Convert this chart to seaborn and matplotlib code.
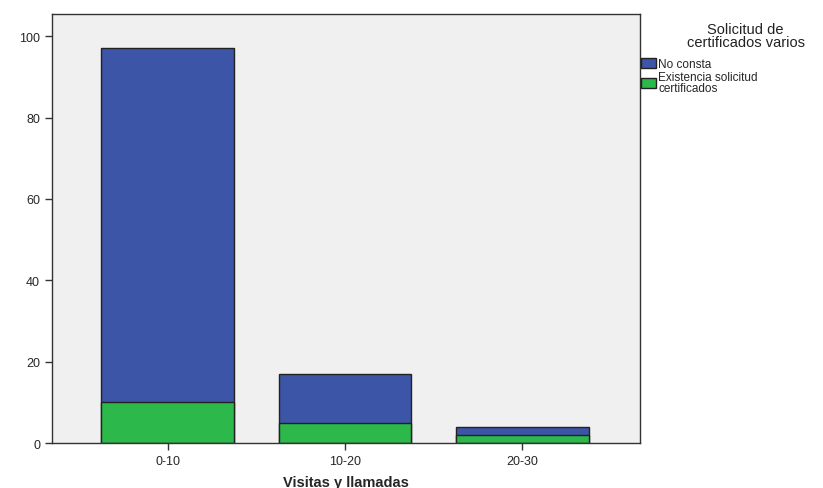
import pandas as pd
import seaborn as sns
import matplotlib.pyplot as plt
from matplotlib.patches import Patch

# Data
categorias = ['0-10', '10-20', '20-30']
no_consta = [87, 12, 2]
existencia = [10, 5, 2]

total = [a + b for a, b in zip(no_consta, existencia)]
data = pd.DataFrame({'Visitas y llamadas': categorias,
                     'total': total,
                     'existencia': existencia})

azul = '#3D55A6'
verde = '#2DB84B'

sns.set_style('ticks')
plt.rcParams['font.family'] = ['Liberation Sans', 'DejaVu Sans']

fig = plt.figure(figsize=(8.23, 4.89), dpi=100)
ax = fig.add_axes([0.063, 0.092, 0.715, 0.877])
ax.set_facecolor('#F0F0F0')

sns.barplot(x='Visitas y llamadas', y='total', data=data, color=azul,
            width=0.75, edgecolor='#222222', linewidth=1, saturation=1, ax=ax)
sns.barplot(x='Visitas y llamadas', y='existencia', data=data, color=verde,
            width=0.75, edgecolor='#222222', linewidth=1, saturation=1, ax=ax)

ax.set_xlim(-0.655, 2.667)
ax.set_ylim(0, 105.4)
ax.set_yticks([0, 20, 40, 60, 80, 100])
ax.set_ylabel('')
ax.set_xlabel('Visitas y llamadas', fontsize=10.5, fontweight='bold', labelpad=6)
ax.tick_params(labelsize=9, length=5, width=1, color='#333333')
for s in ax.spines.values():
    s.set_color('#333333')
    s.set_linewidth(1)

# legend title, centred like the original
fig.text(0.906, 0.925, 'Solicitud de\ncertificados varios', ha='center', va='center',
         fontsize=10.5, linespacing=0.95, color='#222222')

handles = [Patch(facecolor=azul, edgecolor='#222222', label='No consta'),
           Patch(facecolor=verde, edgecolor='#222222',
                 label='Existencia solicitud\ncertificados')]
leg = ax.legend(handles=handles, loc='upper left', bbox_to_anchor=(1.0, 0.9),
                frameon=False, fontsize=8.5, handlelength=1.2,
                handleheight=0.9, handletextpad=0.2, labelspacing=0.1,
                borderaxespad=0.0, borderpad=0.1)
for t in leg.get_texts():
    t.set_linespacing(0.8)

plt.savefig('out.png', dpi=100)
